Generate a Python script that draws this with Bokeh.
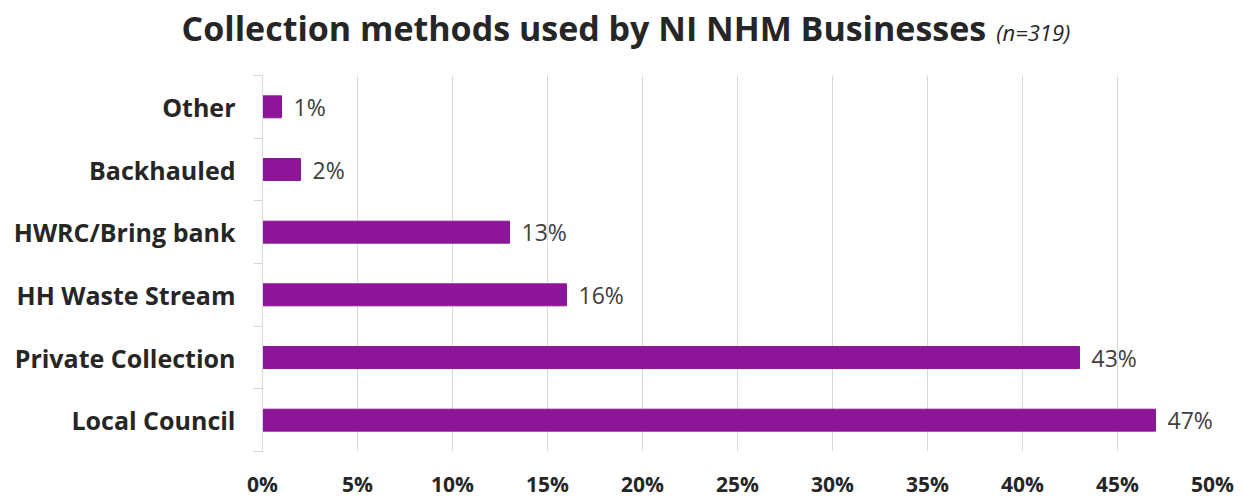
from bokeh.plotting import figure
from bokeh.models import Range1d, FixedTicker, PrintfTickFormatter, ColumnDataSource, Div
from bokeh.layouts import column
from bokeh.core.properties import value
from bokeh.embed import file_html
from bokeh.resources import INLINE

# Data (bottom to top)
categories = ["Local Council", "Private Collection", "HH Waste Stream",
              "HWRC/Bring bank", "Backhauled", "Other"]
percentages = [47, 43, 16, 13, 2, 1]
x_ticks = [0, 5, 10, 15, 20, 25, 30, 35, 40, 45, 50]
title_main = "Collection methods used by NI NHM Businesses"
title_note = "(n=319)"

FONT = "Open Sans"
BAR = "#8c1598"
TXT = "#262626"
GRID = "#d9d9d9"

pos = list(range(len(categories)))
src = ColumnDataSource(dict(
    y=pos, v=percentages, cat=categories,
    lab=[f"{v}%" for v in percentages],
))

p = figure(width=1244, height=440, output_backend="svg", toolbar_location=None,
           x_range=Range1d(0, 50), y_range=Range1d(-0.5, len(categories) - 0.5),
           min_border_left=262, min_border_right=32, min_border_top=15,
           min_border_bottom=49)
p.outline_line_color = None
p.background_fill_color = "white"
p.border_fill_color = "white"

p.hbar(y="y", right="v", left=0, height=0.35, source=src, color=BAR)
p.text(x="v", y="y", text="lab", source=src, x_offset=12,
       text_align="left", text_baseline="middle",
       text_font=value(FONT), text_font_size="23px", text_color="#404040")

# x axis
p.xaxis.ticker = FixedTicker(ticks=x_ticks)
p.xaxis.formatter = PrintfTickFormatter(format="%d%%")
p.xaxis.axis_line_color = None
p.xaxis.major_tick_line_color = None
p.xaxis.minor_tick_line_color = None
p.xaxis.major_label_text_font = FONT
p.xaxis.major_label_text_font_style = "bold"
p.xaxis.major_label_text_font_size = "21px"
p.xaxis.major_label_text_color = TXT
p.xaxis.major_label_standoff = 12

p.xgrid.ticker = FixedTicker(ticks=x_ticks)
p.xgrid.grid_line_color = GRID
p.ygrid.grid_line_color = None

# y axis
p.yaxis.ticker = FixedTicker(ticks=pos, minor_ticks=[i - 0.5 for i in range(len(categories) + 1)])
p.yaxis.major_label_overrides = {i: c for i, c in zip(pos, categories)}
p.yaxis.axis_line_color = GRID
p.yaxis.major_tick_line_color = None
p.yaxis.minor_tick_line_color = GRID
p.yaxis.minor_tick_out = 9
p.yaxis.minor_tick_in = 0
p.yaxis.major_label_text_font = FONT
p.yaxis.major_label_text_font_style = "bold"
p.yaxis.major_label_text_font_size = "25px"
p.yaxis.major_label_text_color = TXT
p.yaxis.major_label_standoff = 18

# Title
title_html = (
    f'<div style="width:1244px;text-align:center;font-family:\'Open Sans\';'
    f'color:{TXT};line-height:34px;padding-top:11px;padding-left:8px;white-space:nowrap;">'
    f'<span style="font-weight:bold;font-size:34px;">{title_main}</span>'
    f'<span style="font-style:italic;font-size:22px;margin-left:10px;">{title_note}</span></div>'
)
title = Div(text=title_html, width=1244, height=60, margin=0)

layout = column(title, p, spacing=0)
open("out.html", "w").write(file_html(layout, INLINE))
